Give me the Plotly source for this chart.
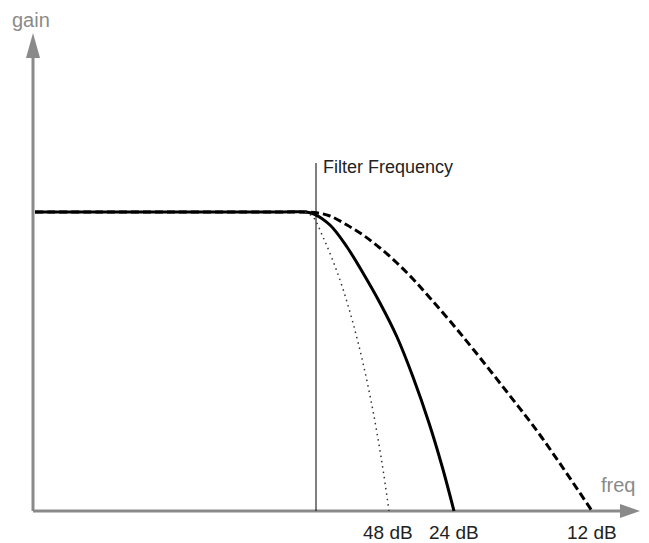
import plotly.graph_objects as go

# ---- data (freq / gain in arbitrary chart units, origin at axes corner) ----
flat_freq = [2, 70, 140, 210, 250, 272]
flat_gain = [299, 299, 299, 299, 299, 299]

slope24_freq = [272, 281, 297, 314, 330, 347, 364, 380, 396, 409, 421]
slope24_gain = [299, 297, 286, 264, 238, 208, 174, 134, 88, 45, 0]

slope12_freq = [272, 285, 297, 314, 330, 347, 364, 380, 397, 417, 440, 474, 507, 559]
slope12_gain = [299, 298, 295, 286, 276, 263, 248, 232, 213, 190, 162, 119, 76, 0]

slope48_freq = [272, 280, 290, 300, 310, 320, 330, 340, 349, 356]
slope48_gain = [299, 294, 274, 250, 222, 188, 148, 100, 48, 0]

cutoff_freq = 283
cutoff_top = 348

label_text = ["48 dB", "24 dB", "12 dB"]
label_freq = [355, 421, 559]

# ---- layout constants ----
W, H = 649, 543
X0, Y0 = 33, 511          # pixel position of the origin
XMAX = 607                # x-axis arrow tip (chart units)
YMAX = 478                # y-axis arrow tip (chart units)
AXIS_GRAY = "#8a8a8a"

fig = go.Figure()

# flat + 24 dB (solid)
fig.add_trace(go.Scatter(x=flat_freq + slope24_freq[1:], y=flat_gain + slope24_gain[1:],
                         mode="lines", line=dict(color="black", width=3, shape="spline", smoothing=1),
                         hoverinfo="skip"))
# 12 dB (dashed)
fig.add_trace(go.Scatter(x=flat_freq + slope12_freq[1:], y=flat_gain + slope12_gain[1:],
                         mode="lines", line=dict(color="black", width=3, dash="8px,4px", shape="spline", smoothing=1),
                         hoverinfo="skip"))
# 48 dB (dotted)
fig.add_trace(go.Scatter(x=slope48_freq, y=slope48_gain,
                         mode="lines", line=dict(color="#333333", width=1.5, dash="1.5px,4px", shape="spline", smoothing=1),
                         hoverinfo="skip"))

shapes = []
# axes lines
shapes.append(dict(type="line", xref="x", yref="y", x0=0, y0=0, x1=XMAX - 18, y1=0,
                   line=dict(color=AXIS_GRAY, width=3), layer="below"))
shapes.append(dict(type="line", xref="x", yref="y", x0=0, y0=0, x1=0, y1=YMAX - 22,
                   line=dict(color=AXIS_GRAY, width=3), layer="below"))
# arrow heads
shapes.append(dict(type="path", xref="x", yref="y",
                   path=f"M {XMAX-20},-7 L {XMAX},0 L {XMAX-20},7 Z",
                   fillcolor=AXIS_GRAY, line=dict(width=0)))
shapes.append(dict(type="path", xref="x", yref="y",
                   path=f"M -7,{YMAX-25} L 0,{YMAX} L 7,{YMAX-25} Z",
                   fillcolor=AXIS_GRAY, line=dict(width=0)))
# cutoff line
shapes.append(dict(type="line", xref="x", yref="y", x0=cutoff_freq, y0=0, x1=cutoff_freq, y1=cutoff_top,
                   line=dict(color="black", width=1), layer="below"))
fig.update_layout(shapes=shapes)

FONT = "Liberation Sans, Arial, sans-serif"
ann = []
ann.append(dict(x=-2, y=YMAX + 13, xref="x", yref="y", text="gain", showarrow=False,
                font=dict(family=FONT, size=20, color=AXIS_GRAY), xanchor="center", yanchor="middle"))
ann.append(dict(x=XMAX - 3, y=26, xref="x", yref="y", text="freq", showarrow=False,
                font=dict(family=FONT, size=20, color=AXIS_GRAY), xanchor="right", yanchor="middle"))
ann.append(dict(x=cutoff_freq + 5, y=cutoff_top - 4, xref="x", yref="y", text="Filter Frequency", showarrow=False,
                font=dict(family=FONT, size=18, color="#222222"), xanchor="left", yanchor="middle"))
for t, f in zip(label_text, label_freq):
    ann.append(dict(x=f, y=-21, xref="x", yref="y", text=t, showarrow=False,
                    font=dict(family=FONT, size=19, color="#222222"), xanchor="center", yanchor="middle"))
fig.update_layout(annotations=ann)

fig.update_layout(
    width=W, height=H,
    margin=dict(l=0, r=0, t=0, b=0),
    paper_bgcolor="white", plot_bgcolor="white",
    showlegend=False,
    xaxis=dict(range=[-X0, W - X0], visible=False, fixedrange=True),
    yaxis=dict(range=[Y0 - H, Y0], visible=False, fixedrange=True),
)

fig.write_html("out.html", config={"displayModeBar": False},
               post_script="document.body.style.margin='0';document.body.style.overflow='hidden';")
